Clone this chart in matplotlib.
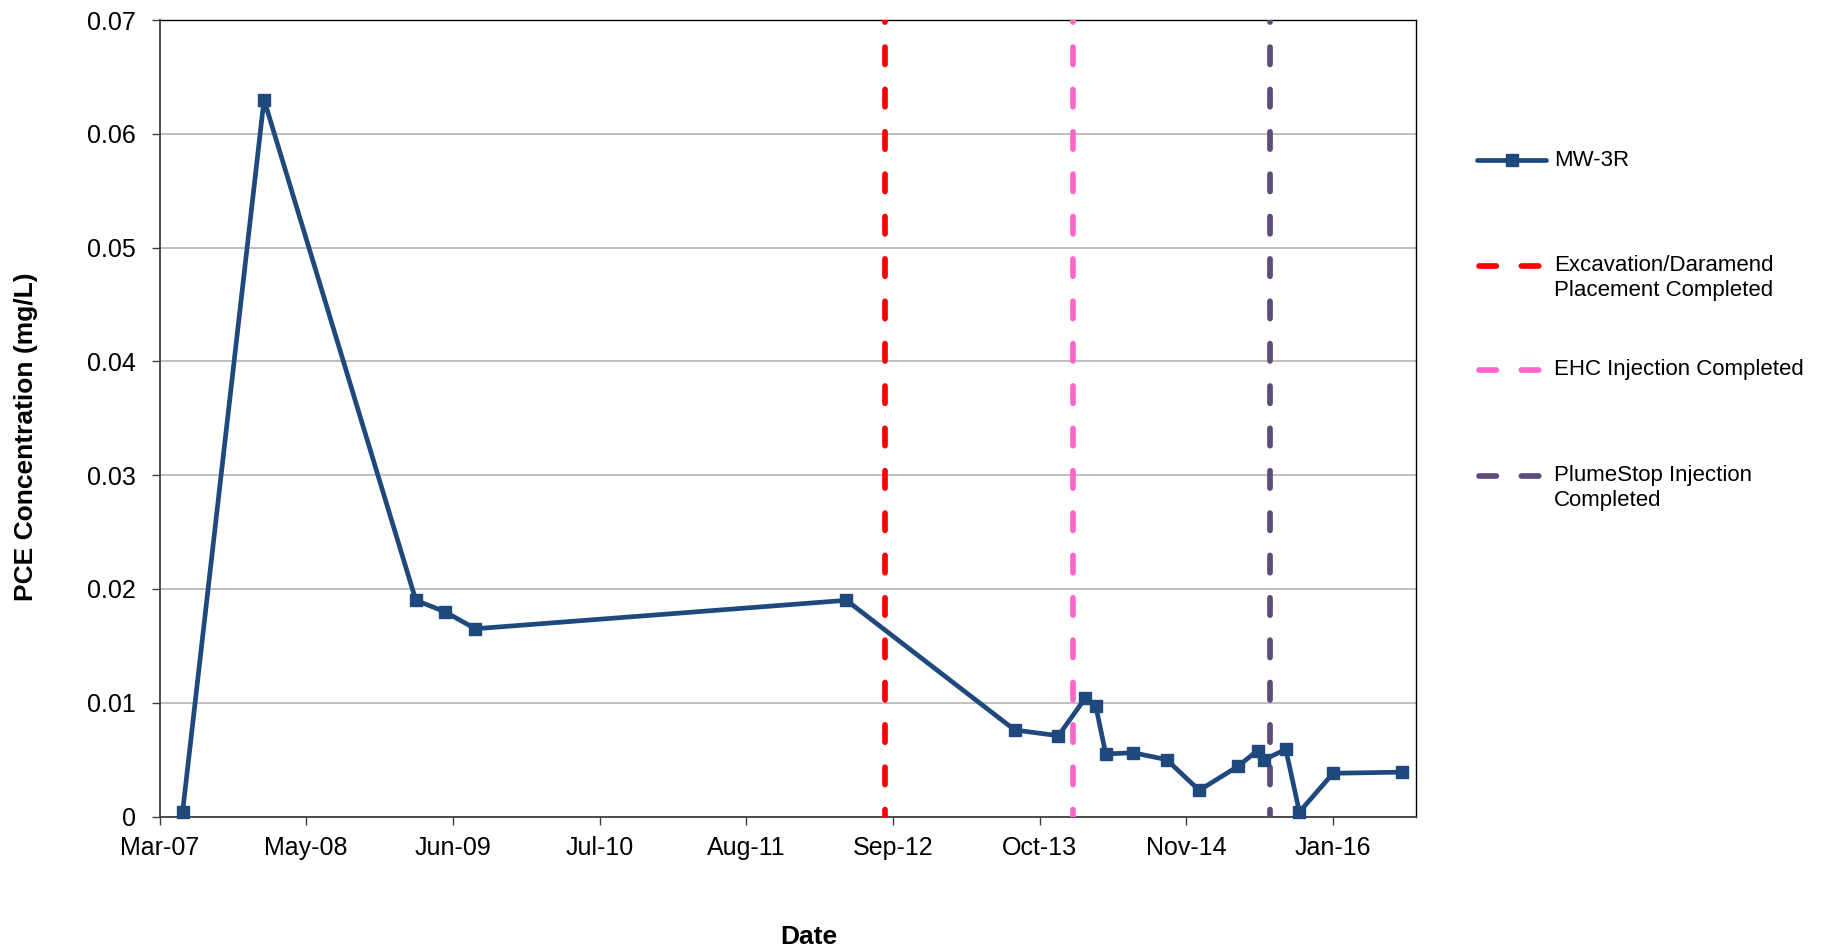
import matplotlib
matplotlib.use('Agg')
import matplotlib.pyplot as plt
import matplotlib.dates as mdates
import numpy as np
from matplotlib.lines import Line2D

plt.rcParams['font.family'] = ['Liberation Sans', 'DejaVu Sans']
plt.rcParams['lines.scale_dashes'] = False

# ---- data ----
sample_dates = ['2007-06-01', '2008-01-09', '2009-02-26', '2009-05-16', '2009-08-07',
                '2012-05-15', '2013-08-17', '2013-12-14', '2014-02-25', '2014-03-26',
                '2014-04-22', '2014-07-06', '2014-10-05', '2015-01-02', '2015-04-17',
                '2015-06-10', '2015-06-28', '2015-08-26', '2015-10-02', '2016-01-02',
                '2016-07-09']
pce_mgL = [0.0004, 0.063, 0.019, 0.018, 0.0165,
           0.019, 0.0076, 0.0071, 0.0104, 0.0097,
           0.0055, 0.0056, 0.0050, 0.0023, 0.0044,
           0.0058, 0.0050, 0.0059, 0.0004, 0.0038,
           0.0039]
series_label = 'MW-3R'

event_dates = ['2012-08-28', '2014-01-24', '2015-07-14']
event_labels = ['Excavation/Daramend\nPlacement Completed',
                'EHC Injection Completed',
                'PlumeStop Injection\nCompleted']
event_colors = ['#FF0000', '#FF66CC', '#604A7B']

axis_start = '2007-03-30'
axis_end = '2016-08-15'
tick_step_days = 400
n_ticks = 9
y_ticks = [0, 0.01, 0.02, 0.03, 0.04, 0.05, 0.06, 0.07]
y_tick_labels = ['0', '0.01', '0.02', '0.03', '0.04', '0.05', '0.06', '0.07']

# ---- figure ----
W, H = 1826, 952
fig = plt.figure(figsize=(W / 100, H / 100), dpi=100)
ax = fig.add_axes([159.5 / W, 1 - 816.5 / H, (1416 - 159.5) / W, (816.5 - 20) / H])

line_color = '#1F497D'
x = mdates.datestr2num(sample_dates)
ax.plot(x, pce_mgL, color=line_color, lw=3.4, marker='s', markersize=8.5,
        markeredgewidth=1, zorder=5, clip_on=False)

dash_pat = (12.5, 18)
for d, c in zip(event_dates, event_colors):
    # drawn from the top downward so the dash pattern starts at the top edge
    ax.axvline(mdates.datestr2num(d), ymin=1, ymax=0, color=c, lw=4.1,
               linestyle=(11, dash_pat), dash_capstyle='round', zorder=4)

start = mdates.datestr2num(axis_start)
ticks = [start + k * tick_step_days for k in range(n_ticks)]
ax.set_xticks(ticks)
ax.xaxis.set_major_formatter(mdates.DateFormatter('%b-%y'))
ax.set_xlim(start, mdates.datestr2num(axis_end))
ax.set_ylim(0, 0.07)
ax.set_yticks(y_ticks)
ax.set_yticklabels(y_tick_labels)

ax.grid(axis='y', color='#B4B4B4', lw=1.2)
ax.set_axisbelow(True)
for s in ['left', 'bottom']:
    ax.spines[s].set_color('#404040')
    ax.spines[s].set_linewidth(1.3)
for s in ['top', 'right']:
    ax.spines[s].set_color('#000000')
    ax.spines[s].set_linewidth(1.0)
ax.tick_params(axis='both', direction='out', length=6, width=1, color='#404040',
               labelsize=18, pad=8)
ax.tick_params(axis='y', pad=11)

fig.text(26 / W, 1 - 437 / H, 'PCE Concentration (mg/L)', rotation=90,
         fontsize=19, fontweight='bold', ha='center', va='center')
fig.text(809 / W, 1 - 937 / H, 'Date', fontsize=19, fontweight='bold',
         ha='center', va='center')

# ---- legend (manual) ----
def fx(px):
    return px / W

def fy(py):
    return 1 - py / H

lx0, lx1, tx = 1477, 1546, 1554
fig.add_artist(Line2D([fx(lx0), fx(lx1)], [fy(160), fy(160)], color=line_color,
                      lw=3.4, solid_capstyle='round'))
fig.add_artist(Line2D([fx((lx0 + lx1) / 2)], [fy(160)], color=line_color,
                      marker='s', markersize=8.5, markeredgewidth=1, lw=0))
fig.text(fx(tx), fy(160), series_label, fontsize=16, va='center', ha='left')

ys = [278, 370, 488]
for yy, c, lab in zip(ys, event_colors, event_labels):
    fig.add_artist(Line2D([fx(lx0 + 2), fx(lx1 - 4)], [fy(yy - 12 if '\n' in lab else yy)] * 2,
                          color=c, lw=4.1, dashes=dash_pat, dash_capstyle='round'))
    fig.text(fx(tx), fy(yy), lab, fontsize=16, va='center', ha='left',
             linespacing=1.2)

fig.savefig('out.png', dpi=100)
